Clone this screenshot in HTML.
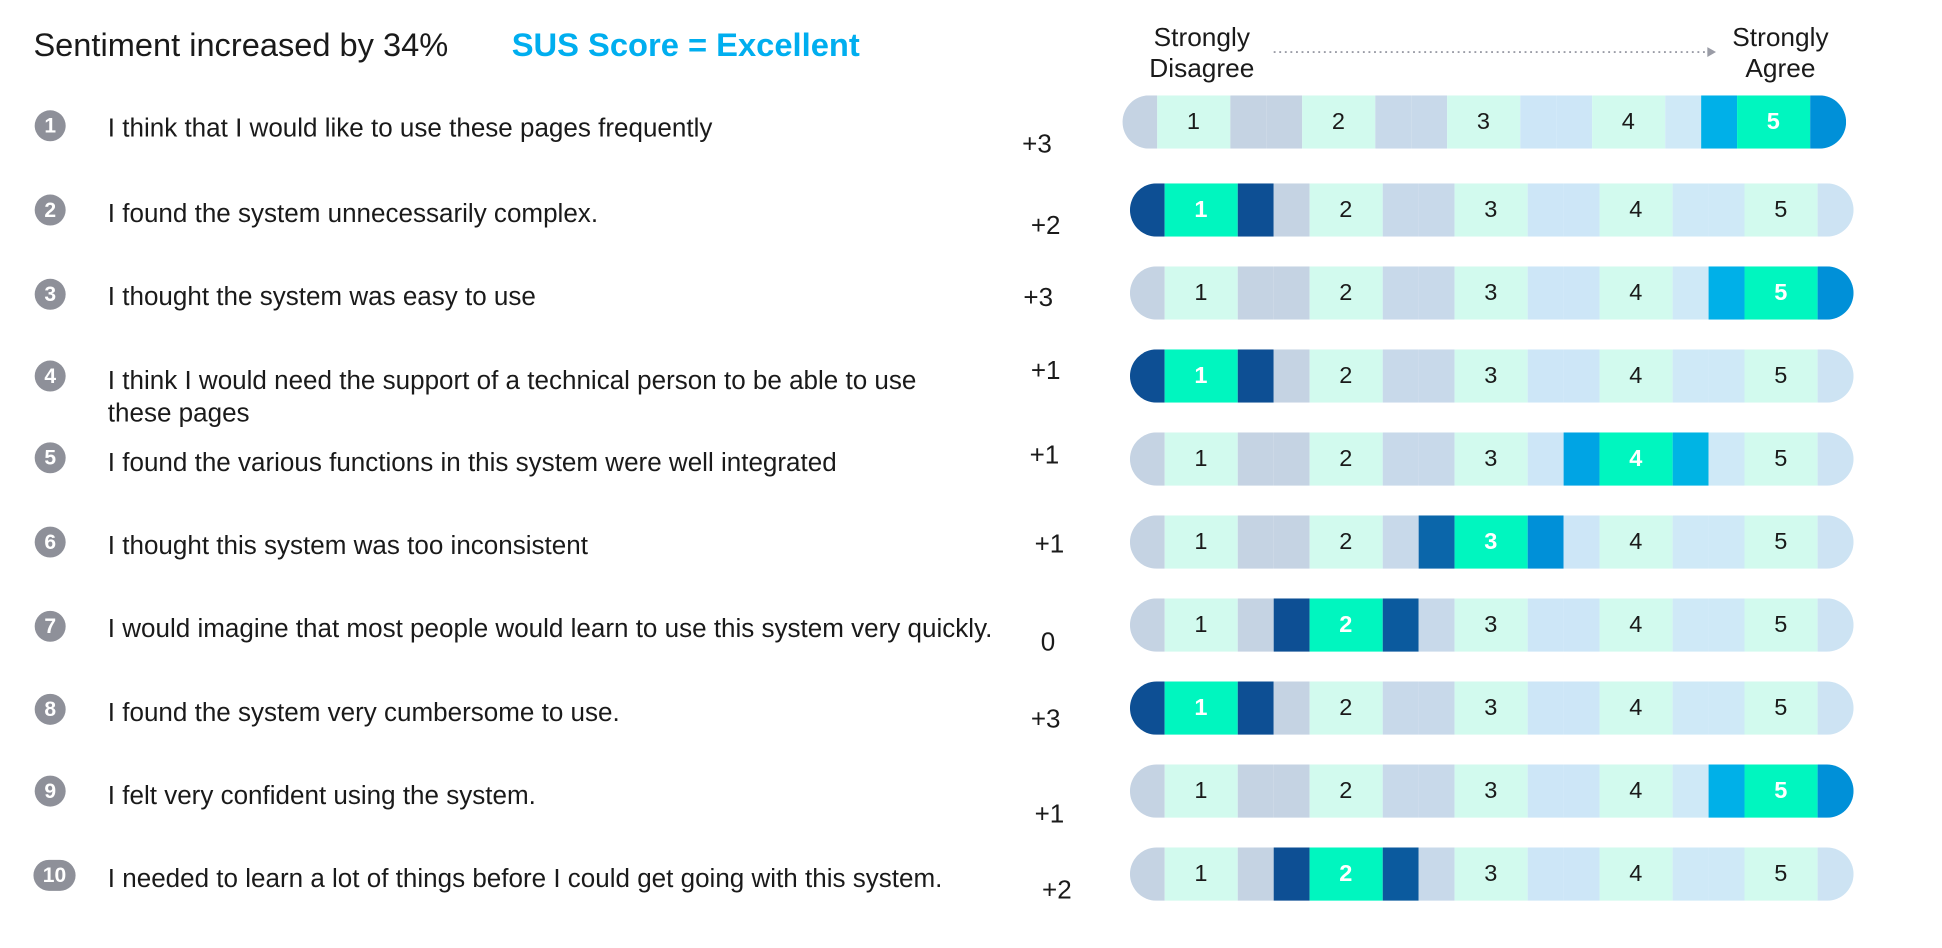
<!DOCTYPE html>
<html><head><meta charset="utf-8"><style>
html,body{margin:0;padding:0;background:#fff;width:1942px;height:948px;overflow:hidden}
#w{position:absolute;left:0;top:0;width:1568px;height:765px;transform:scale(1.239);transform-origin:0 0;font-family:"Liberation Sans",Arial,sans-serif;color:#1a1a1a}
.a{position:absolute;white-space:nowrap}
.t{font-size:26.3px}
.sus{font-size:26.4px;font-weight:bold;color:#00aeef}
.q{font-size:21px;left:87px}
.n{position:absolute;left:28px;width:25px;height:25px;border-radius:12.5px;background:#8e9099;color:#fff;font-weight:bold;font-size:17px;text-align:center;line-height:25px}
.s{font-size:21px}
.h{font-size:21.2px;text-align:center;line-height:25px}
.bar{position:absolute;height:43px;display:flex;border-radius:22px;overflow:hidden;font-size:19px}
.bar div{height:100%;display:flex;align-items:center;justify-content:center;flex:none}
.L{width:28px;background:#c5d3e3}.R{width:29.5px;background:#cde3f3}
.c{width:58.5px;background:#d2faee}
.g1{width:29.25px;background:#c5d3e3}.g2{width:29.25px;background:#c8d9ea}.g3{width:29.25px;background:#cde6f7}.g4{width:29.25px;background:#cfe9f7}
.bar .sel{background:#00f6bf;color:#fff;font-weight:bold}
</style></head><body><div id="w">
<div class="a t" style="left:27px;top:21px">Sentiment increased by 34%</div>
<div class="a sus" style="left:413px;top:21px">SUS Score = Excellent</div>
<div class="a h" style="left:920px;top:18px;width:100px">Strongly<br>Disagree</div>
<div class="a h" style="left:1387px;top:18px;width:100px">Strongly<br>Agree</div>
<svg class="a" style="left:1025px;top:37px" width="365" height="10"><line x1="3" y1="5" x2="352" y2="5" stroke="#9a9ca6" stroke-width="1.5" stroke-dasharray="1.5,3"/><polygon points="353,1 360,5 353,9" fill="#9a9ca6"/></svg>

<div class="n" style="top:89px">1</div><div class="a q" style="top:92px">I think that I would like to use these pages frequently</div><div class="a s" style="left:825px;top:105px">+3</div>
<div class="n" style="top:157px">2</div><div class="a q" style="top:161px">I found the system unnecessarily complex.</div><div class="a s" style="left:832px;top:171px">+2</div>
<div class="n" style="top:225px">3</div><div class="a q" style="top:228px">I thought the system was easy to use</div><div class="a s" style="left:826px;top:229px">+3</div>
<div class="n" style="top:291px">4</div><div class="a q" style="top:295px;line-height:26px">I think I would need the support of a technical person to be able to use<br>these pages</div><div class="a s" style="left:832px;top:288px">+1</div>
<div class="n" style="top:357px">5</div><div class="a q" style="top:362px">I found the various functions in this system were well integrated</div><div class="a s" style="left:831px;top:356px">+1</div>
<div class="n" style="top:425px">6</div><div class="a q" style="top:429px">I thought this system was too inconsistent</div><div class="a s" style="left:835px;top:428px">+1</div>
<div class="n" style="top:493px">7</div><div class="a q" style="top:496px">I would imagine that most people would learn to use this system very quickly.</div><div class="a s" style="left:840px;top:507px">0</div>
<div class="n" style="top:560px">8</div><div class="a q" style="top:564px">I found the system very cumbersome to use.</div><div class="a s" style="left:832px;top:569px">+3</div>
<div class="n" style="top:626px">9</div><div class="a q" style="top:631px">I felt very confident using the system.</div><div class="a s" style="left:835px;top:646px">+1</div>
<div class="n" style="top:694px;left:27px;width:34px">10</div><div class="a q" style="top:698px">I needed to learn a lot of things before I could get going with this system.</div><div class="a s" style="left:841px;top:707px">+2</div>

<div class="bar" style="left:906px;top:77px"><div class="L"></div><div class="c">1</div><div class="g1"></div><div class="g1"></div><div class="c">2</div><div class="g2"></div><div class="g2"></div><div class="c">3</div><div class="g3"></div><div class="g3"></div><div class="c">4</div><div class="g4"></div><div class="g4" style="background:#00b0e8"></div><div class="c sel">5</div><div class="R" style="background:#0090d8"></div></div>
<div class="bar" style="left:912px;top:148px"><div class="L" style="background:#0d4f94"></div><div class="c sel">1</div><div class="g1" style="background:#0d4f94"></div><div class="g1"></div><div class="c">2</div><div class="g2"></div><div class="g2"></div><div class="c">3</div><div class="g3"></div><div class="g3"></div><div class="c">4</div><div class="g4"></div><div class="g4"></div><div class="c">5</div><div class="R"></div></div>
<div class="bar" style="left:912px;top:215px"><div class="L"></div><div class="c">1</div><div class="g1"></div><div class="g1"></div><div class="c">2</div><div class="g2"></div><div class="g2"></div><div class="c">3</div><div class="g3"></div><div class="g3"></div><div class="c">4</div><div class="g4"></div><div class="g4" style="background:#00b0e8"></div><div class="c sel">5</div><div class="R" style="background:#0090d8"></div></div>
<div class="bar" style="left:912px;top:282px"><div class="L" style="background:#0d4f94"></div><div class="c sel">1</div><div class="g1" style="background:#0d4f94"></div><div class="g1"></div><div class="c">2</div><div class="g2"></div><div class="g2"></div><div class="c">3</div><div class="g3"></div><div class="g3"></div><div class="c">4</div><div class="g4"></div><div class="g4"></div><div class="c">5</div><div class="R"></div></div>
<div class="bar" style="left:912px;top:349px"><div class="L"></div><div class="c">1</div><div class="g1"></div><div class="g1"></div><div class="c">2</div><div class="g2"></div><div class="g2"></div><div class="c">3</div><div class="g3"></div><div class="g3" style="background:#00a4e4"></div><div class="c sel">4</div><div class="g4" style="background:#00b4e4"></div><div class="g4"></div><div class="c">5</div><div class="R"></div></div>
<div class="bar" style="left:912px;top:416px"><div class="L"></div><div class="c">1</div><div class="g1"></div><div class="g1"></div><div class="c">2</div><div class="g2"></div><div class="g2" style="background:#0b66aa"></div><div class="c sel">3</div><div class="g3" style="background:#0090d8"></div><div class="g3"></div><div class="c">4</div><div class="g4"></div><div class="g4"></div><div class="c">5</div><div class="R"></div></div>
<div class="bar" style="left:912px;top:483px"><div class="L"></div><div class="c">1</div><div class="g1"></div><div class="g1" style="background:#0d4f94"></div><div class="c sel">2</div><div class="g2" style="background:#0b5a9e"></div><div class="g2"></div><div class="c">3</div><div class="g3"></div><div class="g3"></div><div class="c">4</div><div class="g4"></div><div class="g4"></div><div class="c">5</div><div class="R"></div></div>
<div class="bar" style="left:912px;top:550px"><div class="L" style="background:#0d4f94"></div><div class="c sel">1</div><div class="g1" style="background:#0d4f94"></div><div class="g1"></div><div class="c">2</div><div class="g2"></div><div class="g2"></div><div class="c">3</div><div class="g3"></div><div class="g3"></div><div class="c">4</div><div class="g4"></div><div class="g4"></div><div class="c">5</div><div class="R"></div></div>
<div class="bar" style="left:912px;top:617px"><div class="L"></div><div class="c">1</div><div class="g1"></div><div class="g1"></div><div class="c">2</div><div class="g2"></div><div class="g2"></div><div class="c">3</div><div class="g3"></div><div class="g3"></div><div class="c">4</div><div class="g4"></div><div class="g4" style="background:#00b0e8"></div><div class="c sel">5</div><div class="R" style="background:#0090d8"></div></div>
<div class="bar" style="left:912px;top:684px"><div class="L"></div><div class="c">1</div><div class="g1"></div><div class="g1" style="background:#0d4f94"></div><div class="c sel">2</div><div class="g2" style="background:#0b5a9e"></div><div class="g2"></div><div class="c">3</div><div class="g3"></div><div class="g3"></div><div class="c">4</div><div class="g4"></div><div class="g4"></div><div class="c">5</div><div class="R"></div></div>
</div></body></html>
